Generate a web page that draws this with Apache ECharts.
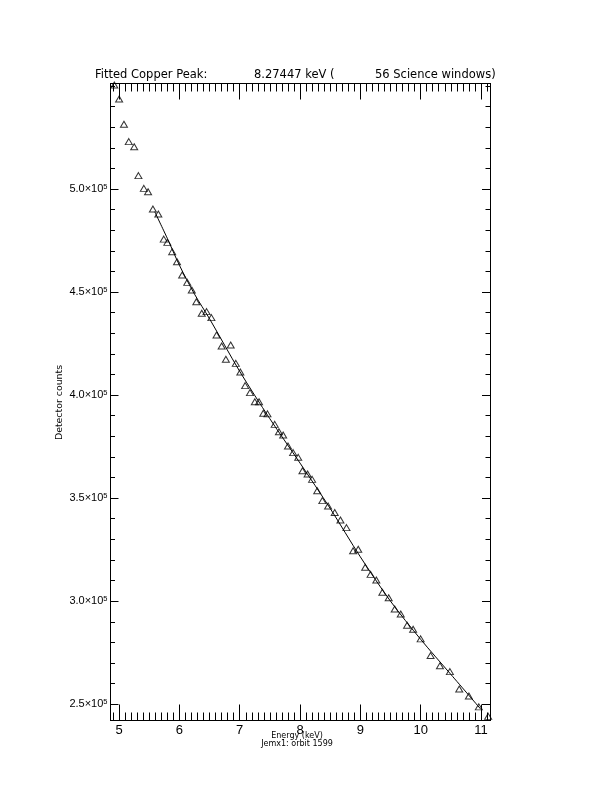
<!DOCTYPE html>
<html>
<head>
<meta charset="utf-8">
<script src="https://cdn.jsdelivr.net/npm/echarts@6/dist/echarts.min.js"></script>
<style>html,body{margin:0;padding:0;background:#fff;}#c{width:612px;height:792px;}</style>
</head>
<body>
<div id="c"></div>
<script>
// ---- data ----
const energyKeV = [4.92, 5.00, 5.08, 5.16, 5.25, 5.32, 5.41, 5.48, 5.56, 5.65, 5.74, 5.80, 5.88, 5.96, 6.045, 6.13, 6.205, 6.28, 6.37, 6.45, 6.53, 6.615, 6.70, 6.77, 6.85, 6.935, 7.01, 7.09, 7.17, 7.25, 7.32, 7.39, 7.46, 7.58, 7.65, 7.72, 7.80, 7.885, 7.97, 8.04, 8.125, 8.20, 8.285, 8.37, 8.465, 8.575, 8.67, 8.77, 8.88, 8.965, 9.08, 9.17, 9.265, 9.365, 9.47, 9.57, 9.67, 9.775, 9.875, 10.0, 10.165, 10.32, 10.485, 10.64, 10.80, 10.965, 11.12];
const counts = [550500, 543700, 531400, 523000, 520500, 506500, 500300, 498700, 490300, 487900, 475700, 474100, 469600, 464700, 458300, 454700, 451000, 445300, 439700, 440500, 437600, 429200, 423800, 417400, 424300, 415400, 411200, 404600, 401200, 396800, 396800, 391200, 390900, 385800, 382200, 380600, 375300, 372100, 369800, 363300, 361700, 359100, 353600, 348800, 346200, 343000, 339400, 335700, 324500, 325200, 316500, 313000, 310300, 304300, 301700, 296200, 293800, 288300, 286400, 281700, 273600, 268700, 265800, 257400, 254000, 248700, 244100];
const fitEnergy = [5.59, 5.8, 6.0, 6.25, 6.5, 7.0, 7.5, 8.0, 8.5, 9.0, 9.5, 10.0, 10.5, 11.0];
const fitCounts = [489000, 476000, 463000, 449000, 437000, 411500, 388500, 367000, 345000, 321500, 300000, 281500, 264500, 247500];
const xMajorTicks = [5, 6, 7, 8, 9, 10, 11];
const yMajorTicks = [250000, 300000, 350000, 400000, 450000, 500000];
const titleParts = ["Fitted Copper Peak:", "8.27447 keV (", "56 Science windows)"];
const xTitle = "Energy (keV)";
const subTitle = "Jemx1: orbit 1599";
const yTitle = "Detector counts";

const X_MIN = 4.857, X_MAX = 11.15, Y_MIN = 242100, Y_MAX = 551200;
const xMinor = [], yMinor = [];
for (let i = 49; i <= 111; i++) xMinor.push(i / 10);
for (let i = 25; i <= 55; i++) yMinor.push(i * 10000);

const black = '#000';
function xAx(pos, ticks, len, labels) {
  return {
    type: 'value', position: pos, min: X_MIN, max: X_MAX,
    axisLine: { show: true, onZero: false, lineStyle: { color: black, width: 1 } },
    axisTick: { show: true, inside: true, length: len, customValues: ticks, lineStyle: { color: black, width: 1 } },
    axisLabel: labels ? { show: true, customValues: ticks, margin: 3, color: black, fontFamily: 'Liberation Sans', fontSize: 13,
      formatter: v => String(Math.round(v)) } : { show: false },
    splitLine: { show: false }
  };
}
function yAx(pos, ticks, len, labels) {
  return {
    type: 'value', position: pos, min: Y_MIN, max: Y_MAX,
    axisLine: { show: true, onZero: false, lineStyle: { color: black, width: 1 } },
    axisTick: { show: true, inside: true, length: len, customValues: ticks, lineStyle: { color: black, width: 1 } },
    axisLabel: labels ? { show: true, customValues: ticks, margin: 3, color: black, fontFamily: 'Liberation Sans', fontSize: 11,
      formatter: v => (v / 1e5).toFixed(1) + '×10{s|5}',
      rich: { s: { fontSize: 7.5, fontFamily: 'Liberation Sans', color: black, verticalAlign: 'top', padding: [0, 0, 5, 0] } } } : { show: false },
    splitLine: { show: false }
  };
}

const chart = echarts.init(document.getElementById('c'), null, { renderer: 'canvas' });
chart.setOption({
  animation: false,
  backgroundColor: '#fff',
  grid: { left: 110.5, top: 83.5, right: 122, bottom: 71.5, containLabel: false },
  xAxis: [xAx('bottom', xMajorTicks, 16, true), xAx('bottom', xMinor, 8, false), xAx('top', xMajorTicks, 16, false), xAx('top', xMinor, 8, false)],
  yAxis: [yAx('left', yMajorTicks, 8, true), yAx('left', yMinor, 4.5, false), yAx('right', yMajorTicks, 8, false), yAx('right', yMinor, 4.5, false)],
  series: [
    {
      type: 'line', xAxisIndex: 0, yAxisIndex: 0,
      data: fitEnergy.map((e, i) => [e, fitCounts[i]]),
      showSymbol: false, smooth: 0.3,
      lineStyle: { color: black, width: 1 }, z: 2
    },
    {
      type: 'scatter', xAxisIndex: 0, yAxisIndex: 0,
      data: energyKeV.map((e, i) => [e, counts[i]]),
      symbol: 'triangle', symbolSize: [7, 6],
      itemStyle: { color: 'rgba(0,0,0,0)', borderColor: black, borderWidth: 1 }, z: 3
    }
  ],
  graphic: [
    { type: 'text', left: 95, top: 69, style: { text: titleParts[0], fontFamily: 'DejaVu Sans', fontSize: 11.5, fill: black } },
    { type: 'text', left: 254, top: 69, style: { text: titleParts[1], fontFamily: 'DejaVu Sans', fontSize: 11.5, fill: black } },
    { type: 'text', left: 375, top: 69, style: { text: titleParts[2], fontFamily: 'DejaVu Sans', fontSize: 11.5, fill: black } },
    { type: 'text', x: 297, y: 736, style: { text: xTitle, fontFamily: 'DejaVu Sans', fontSize: 8, fill: black, textAlign: 'center', textVerticalAlign: 'middle' } },
    { type: 'text', x: 297, y: 743.5, style: { text: subTitle, fontFamily: 'DejaVu Sans', fontSize: 8, fill: black, textAlign: 'center', textVerticalAlign: 'middle' } },
    { type: 'text', x: 60, y: 402.5, rotation: Math.PI / 2, style: { text: yTitle, fontFamily: 'DejaVu Sans', fontSize: 9.4, fill: black, textAlign: 'center', textVerticalAlign: 'middle' } }
  ]
});
</script>
</body>
</html>
